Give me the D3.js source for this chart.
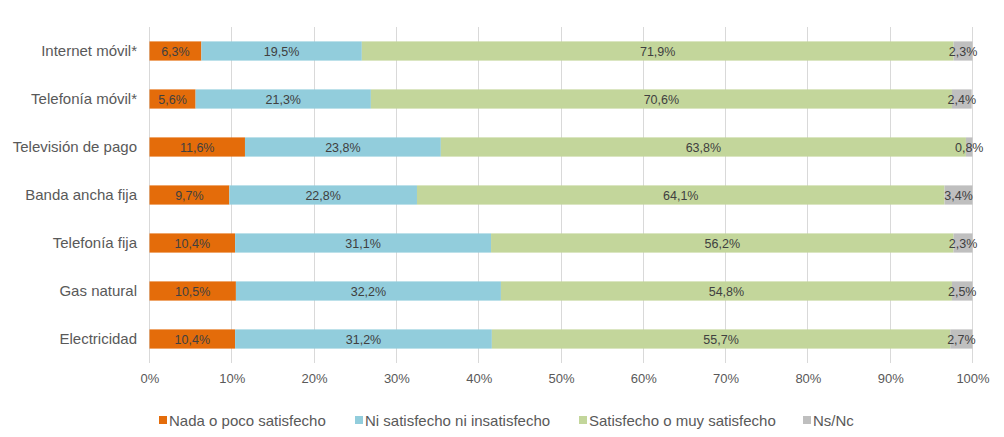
<!DOCTYPE html>
<html><head><meta charset="utf-8">
<script src="https://cdn.jsdelivr.net/npm/d3@7"></script>
<style>body{margin:0;background:#fff}svg{display:block}text{font-family:"Liberation Sans",Arial,sans-serif}</style>
</head><body><svg id="c" width="1004" height="437"></svg>
<script>
const categories = ["Internet móvil*","Telefonía móvil*","Televisión de pago","Banda ancha fija","Telefonía fija","Gas natural","Electricidad"];
const seriesNames = ["Nada o poco satisfecho","Ni satisfecho ni insatisfecho","Satisfecho o muy satisfecho","Ns/Nc"];
const nada = [6.3,5.6,11.6,9.7,10.4,10.5,10.4];
const ni = [19.5,21.3,23.8,22.8,31.1,32.2,31.2];
const satisfecho = [71.9,70.6,63.8,64.1,56.2,54.8,55.7];
const nsnc = [2.3,2.4,0.8,3.4,2.3,2.5,2.7];
const tickValues = [0,10,20,30,40,50,60,70,80,90,100];
const colors = ["#E46C0A","#92CDDC","#C3D69B","#BFBFBF"];

const svg = d3.select("#c");
const x = d3.scaleLinear().domain([0,100]).range([149.5,972.5]);
const y = d3.scaleBand().domain(categories).range([27,363]).paddingInner(0.6).paddingOuter(0.3);

const g = svg.append("g");
g.selectAll("line.grid").data(tickValues).join("line")
  .attr("x1",d=>x(d)).attr("x2",d=>x(d)).attr("y1",27).attr("y2",363)
  .attr("stroke","#D9D9D9").attr("stroke-width",1).attr("shape-rendering","crispEdges");

const rows = categories.map((c,i)=>({cat:c, v:[nada[i],ni[i],satisfecho[i],nsnc[i]]}));
const fmt = v => v.toFixed(1).replace(".",",")+"%";
rows.forEach(r=>{
  let acc=0;
  r.v.forEach((v,k)=>{
    const x0=x(acc), x1=x(acc+v);
    g.append("rect").attr("x",x0).attr("width",x1-x0).attr("y",y(r.cat)).attr("height",y.bandwidth()).attr("fill",colors[k]);
    acc+=v;
  });
  acc=0;
  r.v.forEach((v,k)=>{
    const xc=(x(acc)+x(acc+v))/2;
    g.append("text").attr("x",xc).attr("y",y(r.cat)+y.bandwidth()/2).attr("dy","0.36em")
      .attr("text-anchor","middle").attr("font-size",12.5).attr("fill","#404040").text(fmt(v));
    acc+=v;
  });
});

g.selectAll("text.cat").data(categories).join("text")
  .attr("x",137).attr("y",d=>y(d)+y.bandwidth()/2).attr("dy","0.36em")
  .attr("text-anchor","end").attr("font-size",15).attr("fill","#595959").text(d=>d);

const ax = svg.append("g").attr("transform","translate(0,363)")
  .call(d3.axisBottom(x).tickValues(tickValues).tickSize(0).tickPadding(11).tickFormat(d=>d+"%"));
ax.select(".domain").remove();
ax.selectAll("text").attr("font-size",13).attr("fill","#595959").attr("font-family","Liberation Sans, Arial, sans-serif");

const legX = [159,355,579,803];
const lg = svg.append("g");
seriesNames.forEach((n,k)=>{
  lg.append("rect").attr("x",legX[k]).attr("y",416).attr("width",8).attr("height",8).attr("fill",colors[k]);
  lg.append("text").attr("x",legX[k]+10).attr("y",420.5).attr("dy","0.36em").attr("font-size",15).attr("fill","#595959").text(n);
});
</script></body></html>
